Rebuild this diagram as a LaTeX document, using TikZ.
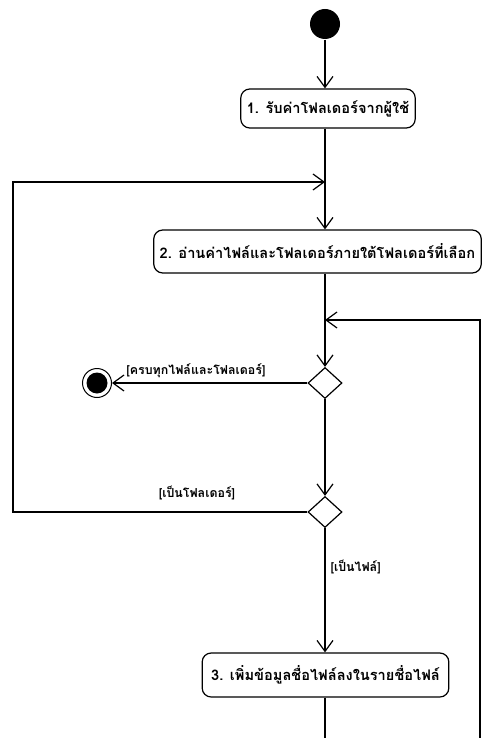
\documentclass[tikz,border=0pt]{standalone}
\usepackage{fontspec}
\newfontfamily\thaifont[Script=Thai]{Loma}
\usetikzlibrary{arrows.meta,shapes.geometric}
\begin{document}
\begin{tikzpicture}[x=1pt,y=-1pt,
  line width=1.2pt,
  every node/.style={font=\thaifont\bfseries\fontsize{14.6}{16}\selectfont},
  act/.style={draw,rounded corners=9pt,minimum height=40pt,inner xsep=6pt},
  dec/.style={draw,diamond,minimum width=34pt,minimum height=31pt,inner sep=0pt,aspect=1.1},
  guard/.style={font=\thaifont\bfseries\fontsize{12.4}{14}\selectfont,inner sep=1pt},
  arr/.style={-{Straight Barb[length=11pt,width=16pt,line width=1.2pt]}}
]
\useasboundingbox (0,0) rectangle (484,738);
\fill[white] (0,0) rectangle (484,738);
\node[circle,fill=black,minimum size=30pt,inner sep=0pt] (start) at (325,24) {};
\node[act,minimum height=39pt] (n1) at (328,108.5) {1. รับค่าโฟลเดอร์จากผู้ใช้};
\node[act,minimum height=43pt] (n2) at (317.5,251.5) {2. อ่านค่าไฟล์และโฟลเดอร์ภายใต้โฟลเดอร์ที่เลือก};
\node[dec] (d1) at (325,383) {};
\node[dec] (d2) at (325,512) {};
\node[act,minimum height=44pt,inner xsep=9pt] (n3) at (325.5,675) {3. เพิ่มข้อมูลชื่อไฟล์ลงในรายชื่อไฟล์};
\node[circle,draw,line width=1pt,minimum size=29pt,inner sep=0pt] (end) at (97,383) {};
\node[circle,fill=black,minimum size=21pt,inner sep=0pt] at (end.center) {};
\coordinate (m1) at (325,182);
\coordinate (m2) at (325,320);
\coordinate (bl) at (13,512);
\coordinate (tl) at (13,182);
\coordinate (br) at (480,741);
\coordinate (rr) at (480,320);
\coordinate (bm) at (325,741);

\draw[arr] (start) -- (n1.north -| start);
\draw[arr] (n1.south -| start) -- (n2.north -| start);
\draw[arr] (n2.south -| d1) -- (d1.north);
\draw[arr] (d1.west) -- (end);
\node[guard] at (196,371) {[ครบทุกไฟล์และโฟลเดอร์]};
\draw[arr] (d1.south) -- (d2.north);
\draw[arr] (d2.west) -- (bl) -- (tl) -- (m1);
\node[guard] at (197,493) {[เป็นโฟลเดอร์]};
\draw[arr] (d2.south) -- (n3.north -| d2);
\node[guard,anchor=west] at (329,567) {[เป็นไฟล์]};
\draw[arr] (n3.south -| d2) -- (bm) -- (br) -- (rr) -- (m2);
\end{tikzpicture}
\end{document}
